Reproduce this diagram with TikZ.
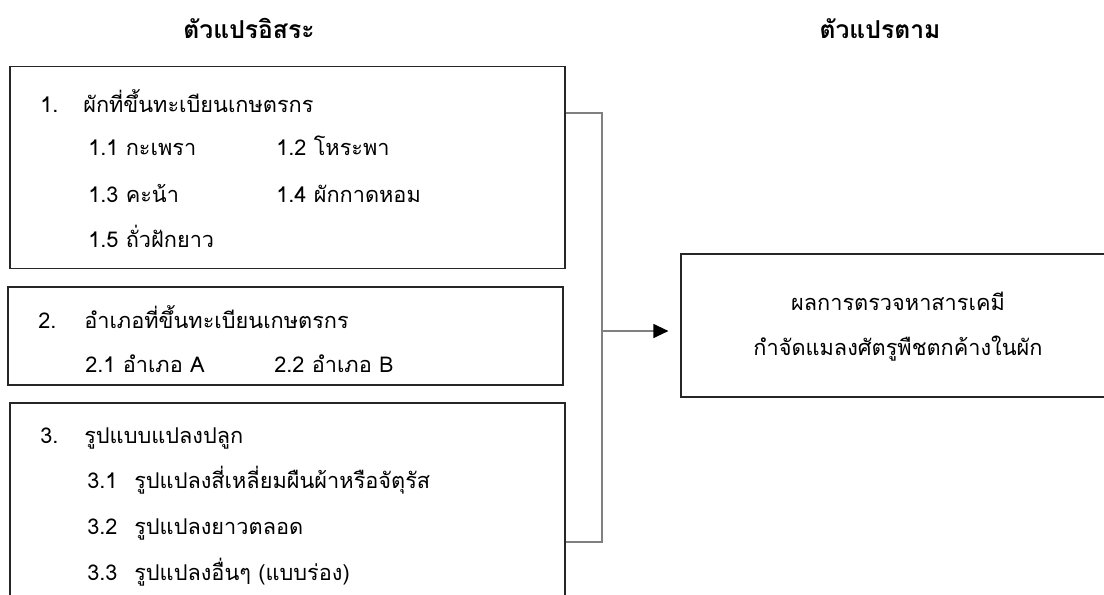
\documentclass[tikz,border=0pt]{standalone}
\usepackage{fontspec}
\newfontfamily\thai[Script=Thai]{Loma}
\usetikzlibrary{arrows.meta,fit,calc}
\begin{document}
\begin{tikzpicture}[x=0.75pt,y=-0.75pt,
  box/.style={draw=black!85, line width=0.9pt, inner sep=0pt},
  lbl/.style={anchor=base west, inner sep=0pt, font=\thai\fontsize{16.3}{18}\selectfont},
  mid/.style={anchor=base, inner sep=0pt, font=\thai\fontsize{16.3}{18}\selectfont},
  ttl/.style={anchor=base, inner sep=0pt, font=\thai\bfseries\fontsize{18.5}{20}\selectfont},
  conn/.style={draw=black!50, line width=0.9pt},
  arr/.style={-{Triangle[length=11.25pt,width=10.5pt,black]}}]
\useasboundingbox (0,0) rectangle (1104,594);
\clip (0,0) rectangle (1104,594);
% titles
\node[ttl] (t1) at (249,38.5) {ตัวแปรอิสระ};
\node[ttl] (t2) at (880,38.5) {ตัวแปรตาม};
% boxes
\node[box, fit={(10,66.7) (565,268.5)}] (b1) {};
\node[box, fit={(8,287) (563,385)}] (b2) {};
\node[box, fit={(10,403) (565,640)}] (b3) {};
\node[box, fit={(681,254) (1115,397)}] (r) {};
% box 1
\node[lbl] (n1) at (40,112) {1.};
\node[lbl] (n1t) at (83,112) {ผักที่ขึ้นทะเบียนเกษตรกร};
\node[lbl] (n11) at (88,155) {1.1 กะเพรา};
\node[lbl] (n12) at (276,155) {1.2 โหระพา};
\node[lbl] (n13) at (88,202) {1.3 คะน้า};
\node[lbl] (n14) at (276,202) {1.4 ผักกาดหอม};
\node[lbl] (n15) at (88,247) {1.5 ถั่วฝักยาว};
% box 2
\node[lbl] (n2) at (38,328) {2.};
\node[lbl] (n2t) at (84,328) {อำเภอที่ขึ้นทะเบียนเกษตรกร};
\node[lbl] (n21) at (85,372) {2.1 อำเภอ A};
\node[lbl] (n22) at (274,372) {2.2 อำเภอ B};
% box 3
\node[lbl] (n3) at (40,443) {3.};
\node[lbl] (n3t) at (84,443) {รูปแบบแปลงปลูก};
\node[lbl] (n31) at (87,488) {3.1};
\node[lbl] (n31t) at (134,488) {รูปแปลงสี่เหลี่ยมผืนผ้าหรือจัตุรัส};
\node[lbl] (n32) at (87,534) {3.2};
\node[lbl] (n32t) at (134,534) {รูปแปลงยาวตลอด};
\node[lbl] (n33) at (87,580) {3.3};
\node[lbl] (n33t) at (134,580) {รูปแปลงอื่นๆ (แบบร่อง)};
% right box
\node[mid] (rt1) at (898,310) {ผลการตรวจหาสารเคมี};
\node[mid] (rt2) at (898,355) {กำจัดแมลงศัตรูพืชตกค้างในผัก};
% connectors
\coordinate (j1) at (602,113);
\coordinate (j3) at (602,542);
\coordinate (jm) at (602,331);
\draw[conn] (b1.east |- j1) -- (j1) -- (j3) -- (b3.east |- j3);
\draw[conn, arr, shorten >=9pt] (jm) -- (r.west |- jm);
\end{tikzpicture}
\end{document}
